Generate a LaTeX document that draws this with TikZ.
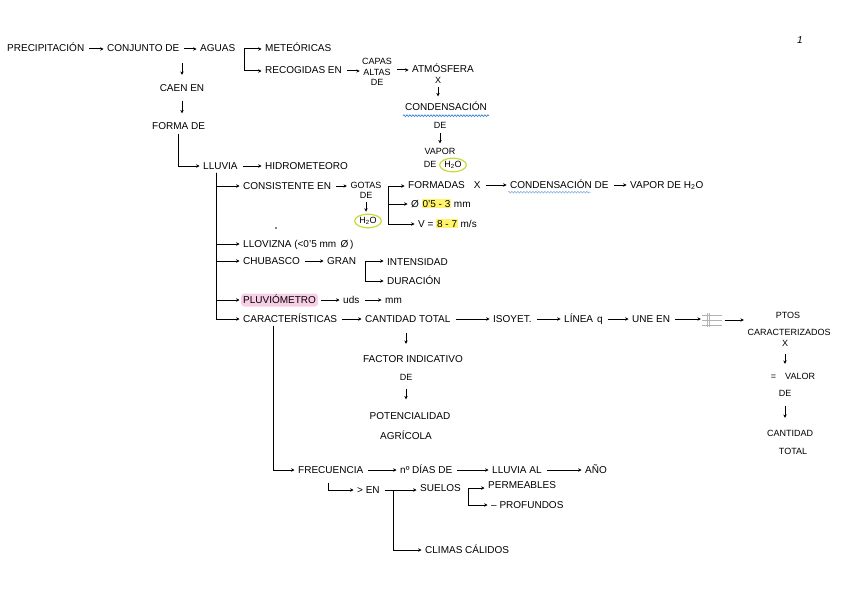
\documentclass[tikz,border=0pt]{standalone}
\usepackage{fontspec}
\setmainfont{Liberation Sans}
\usetikzlibrary{arrows.meta,shapes.geometric,decorations.pathmorphing,calc}
\definecolor{hly}{HTML}{FFF36B}
\definecolor{pinkhl}{HTML}{F8CDE6}
\definecolor{ygreen}{HTML}{C9DA3C}
\definecolor{wblue}{HTML}{3C82D0}
\newcommand\hlt[1]{{\setlength\fboxsep{0.8pt}\colorbox{hly}{#1}}}
\begin{document}
\begin{tikzpicture}[x=1pt,y=-1pt,
  every node/.style={font=\fontsize{10}{12}\selectfont, inner sep=2pt, text height=7.5pt, text depth=1.5pt},
  t/.style={anchor=west},
  c/.style={anchor=center},
  sm/.style={font=\fontsize{9}{11}\selectfont, text height=6.7pt, text depth=1.3pt},
  ar/.style={-{Stealth[length=3.4pt,width=3.4pt]}, line width=1pt, shorten <=3pt, shorten >=1.5pt},
  va/.style={-{Stealth[length=3.4pt,width=3.4pt]}, line width=1pt},
  el/.style={-{Stealth[length=3.4pt,width=3.4pt]}, line width=1pt, shorten >=1.5pt},
  circ/.style={ellipse, draw=ygreen, line width=1.2pt, inner sep=0.8pt},
  wav/.style={wblue, line width=0.7pt, decorate, decoration={snake, amplitude=0.9pt, segment length=3pt}}
]
\useasboundingbox (0,0) rectangle (848,599);

% row 1
\node[t] (prec) at (5,49) {PRECIPITACIÓN};
\node[t] (conj) at (105,49) {CONJUNTO DE};
\node[t] (aguas) at (198,49) {AGUAS};
\node[t] (meteo) at (263,49) {METEÓRICAS};
\node[t] (recog) at (263,71) {RECOGIDAS EN};
\coordinate (ab) at ([xshift=7pt]aguas.east);
\draw[el] (ab) -- (ab -| meteo.west);
\draw[el] (ab) |- (recog.west);

% left column
\node[c] (caen) at (182,89) {CAEN EN};
\node[t] (forma) at (150,127) {FORMA DE};
\draw[va, shorten <=7.5pt, shorten >=7.5pt] (caen.north |- conj.south) -- (caen.north);
\draw[va, shorten <=5pt, shorten >=7pt] (caen.south) -- (caen.south |- forma.north);
\node[t] (lluvia) at (201,166) {LLUVIA};
\node[t] (hidro) at (263,166) {HIDROMETEORO};
\draw[el] ([xshift=28pt]forma.south west) |- (lluvia.west);

% capas column
\node[c, sm] (capas) at (377,62) {CAPAS};
\node[c, sm] (altas) at (377,72.5) {ALTAS};
\node[c, sm] (cde) at (377,83) {DE};
\node[t] (atmos) at (410,70) {ATMÓSFERA};
\node[c, sm] (xa) at (438,81) {X};
\node[c] (cond) at (446,108) {CONDENSACIÓN};
\draw[wav] ([yshift=-1pt]cond.south west) -- ([yshift=-1pt]cond.south east);
\node[c, sm] (de3) at (440,126) {DE};
\node[c, sm] (vap) at (440,152) {VAPOR};
\node[c, sm] (de4) at (430,165) {DE};
\node[circ, sm] (h2ob) at (453,165) {H\textsubscript{2}O};
\draw[ar] (atmos.west -| capas.east) -- (atmos.west);
\draw[va, shorten <=0pt, shorten >=5pt] (xa.south) -- (xa.south |- cond.north);
\draw[va, shorten <=1pt, shorten >=2.5pt] (de3.south) -- (de3.south |- vap.north);

% consistente row
\node[t] (consist) at (241,186) {CONSISTENTE EN};
\node[c, sm] (gotas) at (366,186) {GOTAS};
\node[c, sm] (gde) at (366,196) {DE};
\node[circ, sm] (h2oa) at (368,221) {H\textsubscript{2}O};
\draw[va, shorten <=0pt, shorten >=2pt] (gde.south) -- (gde.south |- h2oa.north);
\coordinate (gb) at ([xshift=5pt]gotas.east);
\node[t] (formadas) at (406,185) {FORMADAS\hspace{9pt}X};
\node[t] (diam) at (409,204) {Ø\ \hlt{0'5 - 3} mm};
\node[t] (vel) at (416,224) {V = \hlt{8 - 7} m/s};
\draw[el] (gb) -- (gb -| formadas.west);
\draw[el] (gb) |- (diam.west);
\draw[el] (gb) |- (vel.west);
\node[t] (condde) at (508,185) {CONDENSACIÓN DE};
\draw[wav, wblue!70, line width=0.5pt] ([yshift=-0.5pt]condde.south west) -- ([xshift=-20pt,yshift=-0.5pt]condde.south east);
\node[t] (vap2) at (628,185) {VAPOR DE H\textsubscript{2}O};

% other branches
\node[t] (llov) at (241,244) {LLOVIZNA (<0'5 mm\, Ø\,)};
\node[t] (chub) at (241,261) {CHUBASCO};
\node[t] (gran) at (325,261) {GRAN};
\node[t] (inten) at (385,262) {INTENSIDAD};
\node[t] (durac) at (385,281) {DURACIÓN};
\coordinate (gb2) at ([xshift=7pt]gran.east);
\draw[el] (gb2) -- (gb2 -| inten.west);
\draw[el] (gb2) |- (durac.west);
\node[t, fill=pinkhl, rounded corners=3pt] (pluv) at (241,300) {PLUVIÓMETRO};
\node[t] (uds) at (341,300) {uds};
\node[t] (mm) at (383,300) {mm};
\node[t] (carac) at (241,319) {CARACTERÍSTICAS};
\node[t] (cant) at (363,319) {CANTIDAD TOTAL};
\node[t] (isoy) at (491,319) {ISOYET.};
\node[t] (linea) at (562,319) {LÍNEA\hspace{4pt}q};
\node[t] (une) at (630,319) {UNE EN};
\node[minimum width=19pt, minimum height=14pt, inner sep=0pt, text height=, text depth=] (grid) at (712,320) {};
\foreach \f in {0.15,0.5,0.85}
  \draw[gray!60, line width=0.6pt] ($(grid.north west)!\f!(grid.south west)$) -- ($(grid.north east)!\f!(grid.south east)$);
\foreach \f in {0.25,0.38}
  \draw[gray!60, line width=0.6pt] ($(grid.north west)!\f!(grid.north east)$) -- ($(grid.south west)!\f!(grid.south east)$);
\node[c, sm] (ptos) at (788,316) {PTOS};
\node[c, sm] (caract) at (789,333) {CARACTERIZADOS};
\node[c, sm] (xb) at (785,344) {X};
\node[c, sm] (eqv) at (793,377) {=\hspace{9pt}VALOR};
\node[c, sm] (de6) at (785,394) {DE};
\node[c, sm] (ctot) at (790,434) {CANTIDAD};
\node[c, sm] (ctot2) at (793,452) {TOTAL};
\draw[va, shorten <=3.5pt, shorten >=7pt] (xb.south) -- (xb.south |- eqv.north);
\draw[va, shorten <=5.5pt, shorten >=10pt] (de6.south) -- (de6.south |- ctot.north);

\node[c] (fact) at (413,359) {FACTOR INDICATIVO};
\node[c, sm] (de5) at (406,378) {DE};
\node[c] (pot) at (410,416) {POTENCIALIDAD};
\node[c] (agr) at (406,436) {AGRÍCOLA};
\draw[va, shorten <=7.5pt, shorten >=8.5pt] (de5 |- cant.south) -- (de5 |- fact.north);
\draw[va, shorten <=4.5pt, shorten >=10pt] (de5.south) -- (de5.south |- pot.north);

% trunk from lluvia
\coordinate (trk) at ([xshift=15pt]lluvia.south west);
\foreach \n in {consist,llov,chub,pluv,carac}
  \draw[el] (trk) |- (\n.west);

% frecuencia
\node[t] (frec) at (296,470) {FRECUENCIA};
\draw[el] ([xshift=32pt]carac.south west) |- (frec.west);
\node[t] (ndias) at (398,470) {nº DÍAS DE};
\node[t] (lluv2) at (490,470) {LLUVIA AL};
\node[t] (anyo) at (583,470) {AÑO};
\node[t] (enn) at (355,490) {> EN};
\draw[el] ([xshift=32pt,yshift=-6pt]frec.south west) |- (enn.west);
\node[t] (suelos) at (418,488) {SUELOS};
\draw[ar] (enn.east) -- (enn.east -| suelos.west);
\coordinate (eb) at ([xshift=12pt]enn.east);
\node[t] (climas) at (423,550) {CLIMAS CÁLIDOS};
\draw[el] (eb) |- (climas.west);
\node[t] (perm) at (486,485) {PERMEABLES};
\node[t] (prof) at (489,505) {– PROFUNDOS};
\coordinate (sb) at ([xshift=6pt]suelos.east);
\draw[el] (sb) -- (sb -| perm.west);
\draw[el] (sb) |- (prof.west);

% horizontal arrows
\foreach \a/\b in {prec/conj, conj/aguas, recog/altas, lluvia/hidro, consist/gotas, formadas/condde, condde/vap2, chub/gran, pluv/uds, uds/mm, carac/cant, cant/isoy, isoy/linea, linea/une, une/grid, grid/caract, frec/ndias, ndias/lluv2, lluv2/anyo}
  \draw[ar] (\a.east) -- (\a.east -| \b.west);

\node[font=\fontsize{10}{12}\selectfont\itshape] (pg) at (800,41) {1};
\fill (276,228) circle (0.8pt);
\end{tikzpicture}
\end{document}
